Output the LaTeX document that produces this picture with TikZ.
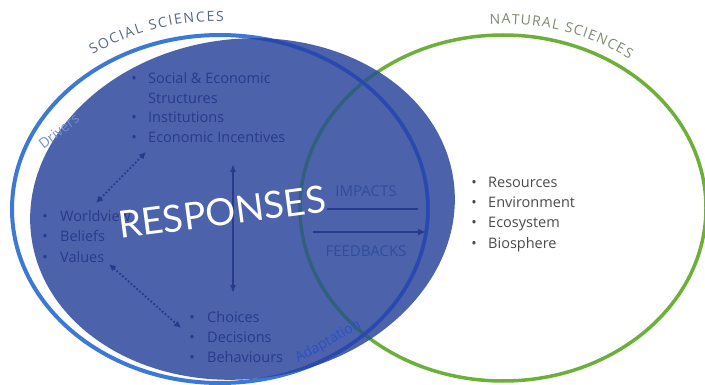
\documentclass[tikz,border=0pt]{standalone}
\usepackage{fontspec}
\setmainfont{Open Sans}
\newfontfamily\latofont{Lato}
\usetikzlibrary{arrows.meta,decorations.text}
\definecolor{fillblue}{RGB}{52,78,160}
\definecolor{outblue}{RGB}{60,120,214}
\definecolor{innerblue}{RGB}{42,72,178}
\definecolor{navy}{RGB}{40,58,140}
\definecolor{sgreen}{RGB}{108,176,58}
\definecolor{tealline}{RGB}{45,98,122}
\definecolor{ssgray}{RGB}{85,105,140}
\definecolor{nsgray}{RGB}{125,138,115}
\definecolor{drvcol}{RGB}{118,142,208}
\definecolor{adpcol}{RGB}{45,80,200}
\definecolor{midlbl}{RGB}{50,76,156}
\definecolor{darktext}{RGB}{75,75,75}
\begin{document}
\begin{tikzpicture}[x=1pt,y=-1pt,
  item/.style={anchor=base west, inner sep=0pt, font=\fontsize{14.5}{14.5}\selectfont, text=navy},
  bul/.style={anchor=base, inner sep=0pt, font=\fontsize{14.5}{14.5}\selectfont, text=navy},
  ritem/.style={item, text=darktext},
  rbul/.style={bul, text=darktext},
  flowlbl/.style={anchor=base, inner sep=0pt, text=midlbl, font=\fontsize{15}{15}\selectfont},
  sidelbl/.style={anchor=base, inner sep=0pt, font=\fontsize{14}{14}\selectfont},
  flow/.style={navy, line width=1.8pt},
  dotarrow/.style={navy, line width=1.8pt, dotted, {Latex[length=7pt,width=7pt]}-{Latex[length=7pt,width=7pt]}},
  vert/.style={navy, line width=1.5pt, {Latex[length=8pt,width=6pt]}-{Latex[length=8pt,width=6pt]}}
]
\useasboundingbox (0,0) rectangle (705,385);
\fill[white] (0,0) rectangle (705,385);
% circles
\draw[sgreen, line width=3.5pt] (503,208) ellipse [x radius=203pt, y radius=173pt];
\draw[outblue, line width=4pt] (220,209) ellipse [x radius=208pt, y radius=174pt];
\fill[fillblue, opacity=0.88, rotate around={7.4:(242.5,209)}] (242.5,209) ellipse [x radius=213pt, y radius=170pt];
\begin{scope}
  \clip[rotate around={7.4:(242.5,209)}] (242.5,209) ellipse [x radius=213pt, y radius=170pt];
  \draw[tealline, line width=2.6pt] (503,208) ellipse [x radius=203pt, y radius=173pt];
  \draw[innerblue, line width=3pt] (220,209) ellipse [x radius=208pt, y radius=174pt];
\end{scope}
% curved titles
\path[decorate, decoration={text along path, text align=fit to path,
  text={|\fontsize{14}{14}\selectfont\color{ssgray}|SOCIAL SCIENCES}}]
  plot[domain=125:89, samples=50] ({220+222*cos(\x)},{209-188*sin(\x)});
\path[decorate, decoration={text along path, text align=fit to path,
  text={|\fontsize{14}{14}\selectfont\color{nsgray}|NATURAL SCIENCES}}]
  plot[domain=93.5:54, samples=50] ({503+215*cos(\x)},{208-184*sin(\x)});
% side labels
\node[sidelbl, rotate=38, text=drvcol] (drv) at (62,135) {Drivers};
\node[sidelbl, rotate=29, text=adpcol] (adp) at (330,345) {Adaptation};
% top list
\node[bul] (b1) at (134,84) {•};
\node[item] (t1) at (148,84) {Social \& Economic};
\node[item] (t1b) at (148,103.5) {Structures};
\node[bul] (b2) at (134,123) {•};
\node[item] (t2) at (148,123) {Institutions};
\node[bul] (b3) at (134,142.5) {•};
\node[item] (t3) at (148,142.5) {Economic Incentives};
% left list
\node[bul] (l1b) at (45,222) {•};
\node[item] (l1) at (60,222) {Worldview};
\node[bul] (l2b) at (45,242) {•};
\node[item] (l2) at (60,242) {Beliefs};
\node[bul] (l3b) at (45,262) {•};
\node[item] (l3) at (60,262) {Values};
% bottom list
\node[bul] (c1b) at (192,323) {•};
\node[item] (c1) at (207,323) {Choices};
\node[bul] (c2b) at (192,342.5) {•};
\node[item] (c2) at (207,342.5) {Decisions};
\node[bul] (c3b) at (192,362) {•};
\node[item] (c3) at (207,362) {Behaviours};
% right list
\node[rbul] (r1b) at (474,188) {•};
\node[ritem] (r1) at (488,188) {Resources};
\node[rbul] (r2b) at (474,208) {•};
\node[ritem] (r2) at (488,208) {Environment};
\node[rbul] (r3b) at (474,228) {•};
\node[ritem] (r3) at (488,228) {Ecosystem};
\node[rbul] (r4b) at (474,248) {•};
\node[ritem] (r4) at (488,248) {Biosphere};
% impacts / feedbacks
\node[flowlbl] (imp) at (366,197) {IMPACTS};
\node[flowlbl] (fb) at (366,257) {FEEDBACKS};
\coordinate (i1) at (327,209);
\coordinate (i2) at (418,209);
\coordinate (f1) at (313,232);
\coordinate (f2) at (426,232);
\draw[flow] (i1) -- (i2);
\draw[flow, -{Latex[length=8pt,width=7pt]}] (f1) -- (f2);
% vertical arrow
\coordinate (v1) at (233,164);
\coordinate (v2) at (233,293);
\draw[vert] (v1) -- (v2);
% dotted arrows
\coordinate (d1) at (146,152);
\coordinate (d2) at (96,203);
\draw[dotarrow] (d1) -- (d2);
\coordinate (e1) at (109,264);
\coordinate (e2) at (181,328);
\draw[dotarrow] (e1) -- (e2);
% responses
\node[rotate=7.5, text=white, font=\latofont\fontsize{37.5}{37.5}\selectfont, inner sep=0pt] (resp) at (222,212) {RESPONSES};
\end{tikzpicture}
\end{document}
